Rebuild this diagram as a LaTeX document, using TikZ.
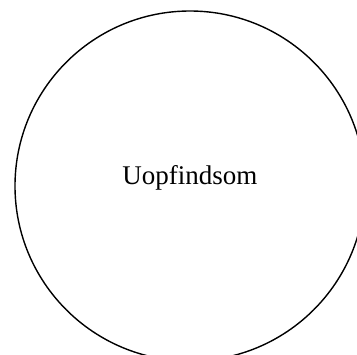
\documentclass[tikz,border=0pt]{standalone}
\usepackage{fontspec}
\setmainfont{Liberation Serif}
\usetikzlibrary{positioning}
\tikzset{
  bubble/.style={circle,draw,line width=1.4bp,minimum size=350bp,inner sep=0pt},
  lbl/.style={font=\fontsize{27bp}{32bp}\selectfont}
}
\begin{document}
\begin{tikzpicture}[x=1bp,y=-1bp]
\useasboundingbox (0,0) rectangle (357,355);
\clip (0,0) rectangle (357,355);
\node[bubble] (C) at (190,186) {};
\node[lbl] (T) at (190,178) {Uopfindsom};
\end{tikzpicture}
\end{document}
